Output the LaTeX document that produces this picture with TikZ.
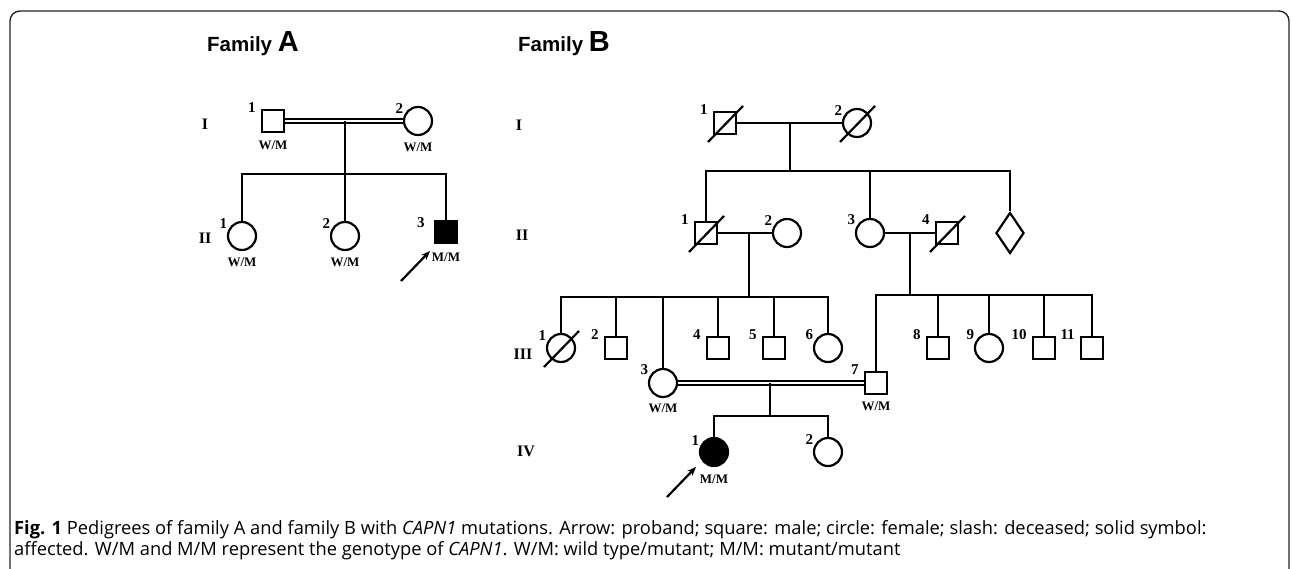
\documentclass[tikz,border=0pt]{standalone}
\usepackage{fontspec}
\setmainfont{Liberation Serif}
\newfontfamily\titlefont{Liberation Sans}
\newfontfamily\capfont{Open Sans}
\usepackage{tikz}
\usetikzlibrary{shapes.geometric, positioning, arrows, arrows.meta}
\tikzstyle{male} = [rectangle, minimum size=22pt, inner sep=0pt, draw=black, line width=2.2pt]
\tikzstyle{female} = [circle, minimum size=28pt, inner sep=0pt, draw=black, line width=2.2pt]
\tikzstyle{unknown} = [diamond, minimum width=28pt, minimum height=41pt, inner sep=0pt, draw=black, line width=2.2pt]
\tikzstyle{affected} = [fill=black]
\tikzstyle{line} = [line width=2.2pt]
\tikzstyle{consang} = [double, double distance=2.2pt, line width=1.6pt]
\tikzstyle{arrow} = [line width=2.2pt, -{Stealth[length=9pt, width=7pt]}]
\tikzstyle{frame} = [line width=1.4pt, rounded corners=10pt, draw=black!85]
\tikzstyle{num} = [anchor=south east, inner sep=0pt, font=\fontsize{15}{15}\selectfont\bfseries]
\tikzstyle{geno} = [inner sep=0pt, font=\fontsize{13}{13}\selectfont\bfseries]
\tikzstyle{gen} = [inner sep=0pt, font=\fontsize{16}{16}\selectfont\bfseries]
\tikzstyle{famtitle} = [anchor=base west, inner sep=0pt, font=\titlefont\fontsize{20.5}{20.5}\selectfont\bfseries]
\tikzstyle{caption} = [anchor=base west, inner sep=0pt, font=\capfont\fontsize{18.3}{18.3}\selectfont]
\newcommand{\deceased}[1]{\draw[line] ([shift={(-17,19)}]#1.center) -- ([shift={(18,-17)}]#1.center);}
\newcommand{\bigletter}[1]{{\fontsize{29}{29}\selectfont #1}}

\begin{document}
\begin{tikzpicture}[x=1pt, y=-1pt]
\useasboundingbox (0,0) rectangle (1292,569);
\draw[frame] (10,575) |- (1289,11) -- (1289,575);

% family A
\node (aT) [famtitle] at (207,52) {Family \bigletter{A}};
\node (aG1) [gen] at (205,124) {I};
\node (aG2) [gen] at (205,238) {II};

\node (aI1) [male] at (273,121) {};
\node (aI2) [female] at (418,121) {};
\node (aII1) [female] at (242,236) {};
\node (aII2) [female] at (345,236) {};
\node (aII3) [male, affected] at (446,232) {};

\node (aI1n) [num] at ([shift={(-5,4)}]aI1.north west) {1};
\node (aI2n) [num] at ([shift={(-4,3)}]aI2.north west) {2};
\node (aII1n) [num] at ([shift={(-4,3)}]aII1.north west) {1};
\node (aII2n) [num] at ([shift={(-4,3)}]aII2.north west) {2};
\node (aII3n) [num] at ([shift={(-9,8)}]aII3.north west) {3};

\node (aI1g) [geno, below=8pt of aI1] {W/M};
\node (aI2g) [geno, below=7pt of aI2] {W/M};
\node (aII1g) [geno, below=7pt of aII1] {W/M};
\node (aII2g) [geno, below=7pt of aII2] {W/M};
\node (aII3g) [geno, below=9pt of aII3] {M/M};

\coordinate (aM) at (345,121);
\coordinate (aS) at (345,174);
\draw[consang] (aI1) -- (aI2);
\draw[line] (aM) -- (aS);
\draw[line] (aII1) |- (aS) -| (aII3);
\draw[line] (aS) -- (aII2);

\coordinate (aP1) at (401,281);
\coordinate (aP2) at (430,251);
\draw[arrow] (aP1) -- (aP2);

% family B
\node (bT) [famtitle] at (518,52) {Family \bigletter{B}};
\node (bG1) [gen] at (519,125) {I};
\node (bG2) [gen] at (522,235) {II};
\node (bG3) [gen] at (523,354) {III};
\node (bG4) [gen] at (526,451) {IV};

\node (bI1) [male] at (725,123) {};
\node (bI2) [female] at (857,123) {};

\node (bII1) [male] at (706,233) {};
\node (bII2) [female] at (787,233) {};
\node (bII3) [female] at (870,233) {};
\node (bII4) [male] at (947,233) {};
\node (bII5) [unknown] at (1010,233) {};

\node (bIII1) [female] at (561,348) {};
\node (bIII2) [male] at (616,348) {};
\node (bIII3) [female] at (663,383) {};
\node (bIII4) [male] at (718,348) {};
\node (bIII5) [male] at (774,348) {};
\node (bIII6) [female] at (828,348) {};
\node (bIII7) [male] at (876,383) {};
\node (bIII8) [male] at (938,348) {};
\node (bIII9) [female] at (989,348) {};
\node (bIII10) [male] at (1044,348) {};
\node (bIII11) [male] at (1092,348) {};

\node (bIV1) [female, affected] at (714,452) {};
\node (bIV2) [female] at (828,452) {};

\node (bI1n) [num] at ([shift={(-5,4)}]bI1.north west) {1};
\node (bI2n) [num] at ([shift={(-4,3)}]bI2.north west) {2};
\node (bII1n) [num] at ([shift={(-5,4)}]bII1.north west) {1};
\node (bII2n) [num] at ([shift={(-4,3)}]bII2.north west) {2};
\node (bII3n) [num] at ([shift={(-4,3)}]bII3.north west) {3};
\node (bII4n) [num] at ([shift={(-5,4)}]bII4.north west) {4};
\node (bIII1n) [num] at ([shift={(-4,3)}]bIII1.north west) {1};
\node (bIII2n) [num] at ([shift={(-5,4)}]bIII2.north west) {2};
\node (bIII3n) [num] at ([shift={(-4,3)}]bIII3.north west) {3};
\node (bIII4n) [num] at ([shift={(-5,4)}]bIII4.north west) {4};
\node (bIII5n) [num] at ([shift={(-5,4)}]bIII5.north west) {5};
\node (bIII6n) [num] at ([shift={(-4,3)}]bIII6.north west) {6};
\node (bIII7n) [num] at ([shift={(-5,4)}]bIII7.north west) {7};
\node (bIII8n) [num] at ([shift={(-5,4)}]bIII8.north west) {8};
\node (bIII9n) [num] at ([shift={(-4,3)}]bIII9.north west) {9};
\node (bIII10n) [num] at ([shift={(-5,4)}]bIII10.north west) {10};
\node (bIII11n) [num] at ([shift={(-5,4)}]bIII11.north west) {11};
\node (bIV1n) [num] at ([shift={(-4,4)}]bIV1.north west) {1};
\node (bIV2n) [num] at ([shift={(-4,3)}]bIV2.north west) {2};

\node (bIII3g) [geno, below=6pt of bIII3] {W/M};
\node (bIII7g) [geno, below=7pt of bIII7] {W/M};
\node (bIV1g) [geno, below=8pt of bIV1] {M/M};

\deceased{bI1}
\deceased{bI2}
\deceased{bII1}
\deceased{bII4}
\deceased{bIII1}

\coordinate (bM1) at (790,123);
\coordinate (bS1) at (790,171);
\coordinate (bM2) at (749,233);
\coordinate (bS2) at (749,297);
\coordinate (bM3) at (910,233);
\coordinate (bS3) at (910,295);
\coordinate (bM4) at (770,383);
\coordinate (bS4) at (770,416);

\draw[line] (bI1) -- (bI2);
\draw[line] (bM1) -- (bS1);
\draw[line] (bII1) |- (bS1) -| (bII5);
\draw[line] (bS1) -| (bII3);

\draw[line] (bII1) -- (bII2);
\draw[line] (bII3) -- (bII4);
\draw[line] (bM2) -- (bS2);
\draw[line] (bM3) -- (bS3);

\draw[line] (bIII1) |- (bS2) -| (bIII6);
\draw[line] (bIII2) |- (bS2);
\draw[line] (bIII3) |- (bS2);
\draw[line] (bIII4) |- (bS2);
\draw[line] (bS2) -| (bIII5);

\draw[line] (bIII7) |- (bS3) -| (bIII11);
\draw[line] (bS3) -| (bIII8);
\draw[line] (bS3) -| (bIII9);
\draw[line] (bS3) -| (bIII10);

\draw[consang] (bIII3) -- (bIII7);
\draw[line] (bM4) -- (bS4);
\draw[line] (bIV1) |- (bS4) -| (bIV2);

\coordinate (bP1) at (667,497);
\coordinate (bP2) at (696,467);
\draw[arrow] (bP1) -- (bP2);

% caption
\node (cap1) [caption] at (14,534) {\textbf{Fig. 1} Pedigrees of family A and family B with \textit{CAPN1} mutations. Arrow: proband; square: male; circle: female; slash: deceased; solid symbol:};
\node (cap2) [caption] at (14,555) {affected. W/M and M/M represent the genotype of \textit{CAPN1}. W/M: wild type/mutant; M/M: mutant/mutant};
\end{tikzpicture}
\end{document}
